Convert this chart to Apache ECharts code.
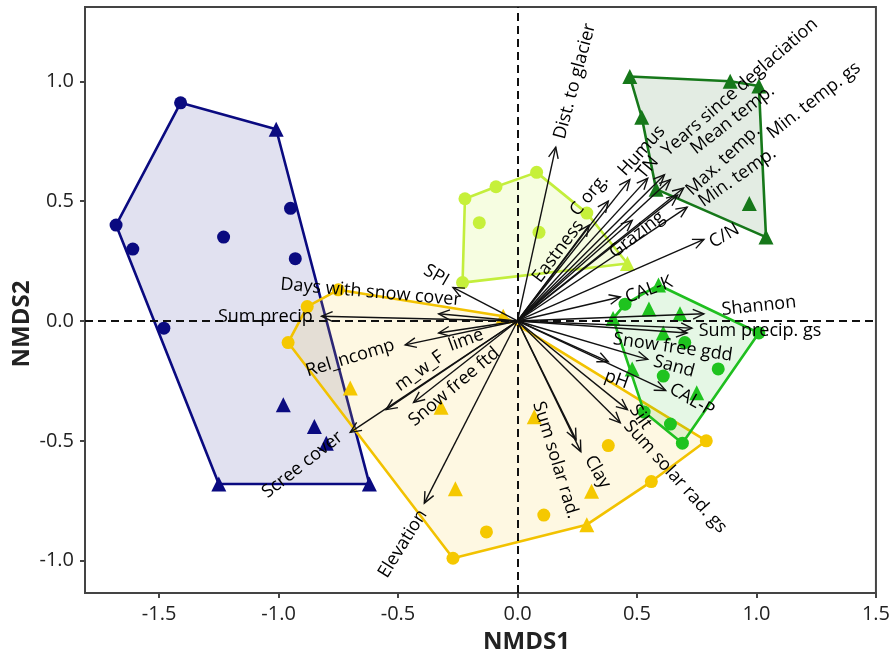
<!DOCTYPE html>
<html>
<head>
<meta charset="utf-8">
<script src="https://cdn.jsdelivr.net/npm/echarts/dist/echarts.min.js"></script>
<style>
html,body{margin:0;padding:0;background:#fff;}
#chart{width:893px;height:660px;}
</style>
</head>
<body>
<div id="chart"></div>
<script>
// ---------- data ----------
const xTicks = [-1.5, -1.0, -0.5, 0.0, 0.5, 1.0, 1.5];
const yTicks = [-1.0, -0.5, 0.0, 0.5, 1.0];

// navy group
const navyCircles = [[-1.41,0.91],[-0.95,0.47],[-1.68,0.40],[-1.61,0.30],[-1.23,0.35],[-0.93,0.26],[-1.48,-0.03]];
const navyTriangles = [[-1.01,0.80],[-0.98,-0.35],[-0.85,-0.44],[-0.80,-0.51],[-1.25,-0.68],[-0.62,-0.68]];
const navyHull = [[-1.41,0.91],[-1.01,0.80],[-0.62,-0.68],[-1.25,-0.68],[-1.68,0.40]];

// light green group
const limeCircles = [[-0.22,0.51],[-0.09,0.56],[0.08,0.62],[-0.16,0.41],[0.09,0.37],[-0.23,0.16],[0.29,0.45]];
const limeTriangles = [[0.46,0.24]];
const limeHull = [[-0.22,0.51],[-0.09,0.56],[0.08,0.62],[0.29,0.45],[0.46,0.24],[-0.23,0.16]];

// dark green group
const darkTriangles = [[0.47,1.02],[0.89,1.00],[1.01,0.98],[0.52,0.85],[0.58,0.55],[0.97,0.49],[1.04,0.35]];
const darkHull = [[0.47,1.02],[0.89,1.00],[1.01,0.98],[1.04,0.35],[0.58,0.55],[0.52,0.85]];

// green group
const greenCircles = [[0.45,0.07],[0.70,-0.09],[1.01,-0.05],[0.84,-0.20],[0.61,-0.23],[0.53,-0.38],[0.64,-0.43],[0.69,-0.51]];
const greenTriangles = [[0.40,0.01],[0.55,0.05],[0.59,0.15],[0.68,0.03],[0.61,-0.05],[0.48,-0.20],[0.75,-0.30]];
const greenHull = [[0.40,0.01],[0.45,0.07],[0.59,0.15],[1.01,-0.05],[0.69,-0.51],[0.53,-0.38]];

// gold group
const goldCircles = [[-0.96,-0.09],[-0.88,0.06],[-0.75,0.13],[0.38,-0.52],[0.56,-0.67],[0.79,-0.50],[-0.13,-0.88],[0.11,-0.81],[-0.27,-0.99]];
const goldTriangles = [[-0.70,-0.28],[-0.32,-0.36],[-0.26,-0.70],[0.29,-0.85],[0.31,-0.71],[-0.06,0.02],[0.07,-0.40]];
const goldHull = [[-0.96,-0.09],[-0.88,0.06],[-0.75,0.13],[-0.06,0.02],[0.79,-0.50],[0.56,-0.67],[0.29,-0.85],[-0.27,-0.99]];

// fitted vectors
const arrowNames = ['Dist. to glacier','C org.','Humus','TN','Years since deglaciation','Mean temp.','Max. temp.','Min. temp. gs','Min. temp.','Grazing','Eastness','C/N','CAL-K','Shannon','Sum precip. gs','Snow free gdd','Sand','pH','CAL-P','Silt','Sum solar rad. gs','Clay','Sum solar rad.','Elevation','Snow free ftd','m_w_F','lime','Rel_ncomp','Scree cover','Sum precip','Days with snow cover','SPI'];
const arrowTips = [[0.16,0.725],[0.38,0.50],[0.47,0.59],[0.545,0.595],[0.615,0.61],[0.64,0.59],[0.67,0.525],[0.695,0.555],[0.71,0.475],[0.48,0.42],[0.30,0.40],[0.78,0.34],[0.43,0.10],[0.78,0.03],[0.73,-0.03],[0.71,-0.05],[0.545,-0.16],[0.38,-0.17],[0.62,-0.29],[0.46,-0.37],[0.43,-0.425],[0.265,-0.545],[0.245,-0.495],[-0.39,-0.76],[-0.435,-0.34],[-0.55,-0.37],[-0.33,-0.05],[-0.47,-0.10],[-0.70,-0.465],[-0.82,0.02],[-0.33,0.03],[-0.27,0.14]];
// label anchors (data units) and text angles
const labelAnchors = [[0.24,1.00],[0.30,0.525],[0.52,0.71],[0.545,0.64],[0.93,0.975],[0.90,0.84],[0.86,0.67],[1.24,0.92],[0.92,0.60],[0.50,0.36],[0.17,0.29],[0.865,0.355],[0.55,0.13],[1.01,0.0625],[1.015,-0.04],[0.65,-0.11],[0.655,-0.19],[0.415,-0.245],[0.73,-0.33],[0.515,-0.40],[0.66,-0.65],[0.335,-0.63],[0.16,-0.58],[-0.48,-0.93],[-0.265,-0.275],[-0.41,-0.21],[-0.215,-0.08],[-0.70,-0.155],[-0.90,-0.60],[-1.055,0.017],[-0.615,0.12],[-0.34,0.19]];
const labelAngles = [75,50,48,50,41,38,43,38,35,38,53,30,20,6,0,-8,-15,-20,-30,-55,-48,-60,-73,58,40,36,20,17,38,0,-5,-30];

// ---------- chart ----------
const chart = echarts.init(document.getElementById('chart'), null, {renderer:'canvas'});
const FONT = '"Open Sans", "DejaVu Sans", sans-serif';

function hullSeries(hull, stroke, fill) {
  return {
    type: 'custom', data: hull, z: 1, silent: true,
    encode: {x: 0, y: 1},
    renderItem: function (params, api) {
      if (params.dataIndex !== 0) return null;
      const pts = hull.map(p => api.coord(p));
      return {type: 'polygon', shape: {points: pts}, style: {fill: fill, stroke: stroke, lineWidth: 2.6, lineJoin: 'round'}};
    }
  };
}
function pointSeries(data, symbol, color, size) {
  return {type: 'scatter', data: data, symbol: symbol, symbolSize: size, z: 3, silent: true,
          itemStyle: {color: color, opacity: 1}};
}

const option = {
  animation: false,
  backgroundColor: '#fff',
  grid: {left: 85, right: 14, top: 7, bottom: 67, show: true, borderColor: '#444', borderWidth: 2, backgroundColor: 'transparent'},
  xAxis: {
    type: 'value', min: -1.81, max: 1.5,
    axisLine: {show: true, onZero: false, lineStyle: {color: '#444', width: 2}},
    axisTick: {show: true, inside: false, customValues: xTicks, length: 5, lineStyle: {color: '#444', width: 2}},
    axisLabel: {customValues: xTicks, formatter: v => v.toFixed(1), fontFamily: FONT, fontSize: 20, color: '#222', margin: 11},
    splitLine: {show: false}
  },
  yAxis: {
    type: 'value', min: -1.135, max: 1.31,
    axisLine: {show: true, onZero: false, lineStyle: {color: '#444', width: 2}},
    axisTick: {show: true, inside: false, customValues: yTicks, length: 5, lineStyle: {color: '#444', width: 2}},
    axisLabel: {customValues: yTicks, formatter: v => v.toFixed(1), fontFamily: FONT, fontSize: 20, color: '#222', margin: 11},
    splitLine: {show: false}
  },
  graphic: [
    {type: 'text', left: 483, top: 630, style: {text: 'NMDS1', font: 'bold 24px ' + FONT, fill: '#222'}},
    {type: 'text', x: 22, y: 324, rotation: Math.PI / 2, style: {text: 'NMDS2', font: 'bold 24px ' + FONT, fill: '#222', align: 'center', verticalAlign: 'middle'}}
  ],
  series: [
    hullSeries(navyHull, '#0a0a80', 'rgba(20,20,140,0.13)'),
    hullSeries(goldHull, '#f2c200', 'rgba(250,210,60,0.15)'),
    hullSeries(limeHull, '#c3ee3c', 'rgba(200,240,70,0.16)'),
    hullSeries(darkHull, '#16781a', 'rgba(40,110,40,0.13)'),
    hullSeries(greenHull, '#1fbf1f', 'rgba(40,190,40,0.12)'),
    pointSeries(navyCircles, 'circle', '#0a0a80', 13),
    pointSeries(navyTriangles, 'triangle', '#0a0a80', 15),
    pointSeries(limeCircles, 'circle', '#c6f03a', 13),
    pointSeries(limeTriangles, 'triangle', '#c6f03a', 15),
    pointSeries(darkTriangles, 'triangle', '#16781a', 15),
    pointSeries(greenCircles, 'circle', '#1fc31f', 13),
    pointSeries(greenTriangles, 'triangle', '#1fc31f', 15),
    pointSeries(goldCircles, 'circle', '#f5c800', 13),
    pointSeries(goldTriangles, 'triangle', '#f5c800', 15),
    {
      type: 'scatter', data: [], silent: true,
      markLine: {
        silent: true, symbol: 'none', animation: false,
        lineStyle: {color: '#111', width: 2, type: [8, 5]},
        label: {show: false},
        data: [{xAxis: 0}, {yAxis: 0}]
      }, z: 4
    },
    {
      type: 'custom', data: arrowTips, z: 5, silent: true,
      encode: {x: 0, y: 1},
      renderItem: function (params, api) {
        const o = api.coord([0, 0]);
        const t = api.coord([api.value(0), api.value(1)]);
        const ang = Math.atan2(t[1] - o[1], t[0] - o[0]);
        const L = 12, a = 0.42;
        const h1 = [t[0] - L * Math.cos(ang - a), t[1] - L * Math.sin(ang - a)];
        const h2 = [t[0] - L * Math.cos(ang + a), t[1] - L * Math.sin(ang + a)];
        return {type: 'group', children: [
          {type: 'line', shape: {x1: o[0], y1: o[1], x2: t[0], y2: t[1]}, style: {stroke: '#111', lineWidth: 1.4}},
          {type: 'polyline', shape: {points: [h1, t, h2]}, style: {stroke: '#111', lineWidth: 1.4, fill: null}}
        ]};
      }
    },
    {
      type: 'scatter', z: 6, silent: true, symbolSize: 1,
      itemStyle: {color: 'rgba(0,0,0,0)'},
      data: arrowNames.map((n, i) => ({name: n, value: labelAnchors[i], label: {rotate: labelAngles[i]}})),
      label: {show: true, position: 'inside', formatter: '{b}', fontFamily: FONT, fontSize: 18, color: '#000',
              textBorderWidth: 0, textBorderColor: 'transparent', opacity: 1, align: 'center', verticalAlign: 'middle'}
    }
  ]
};
chart.setOption(option);
</script>
</body>
</html>
